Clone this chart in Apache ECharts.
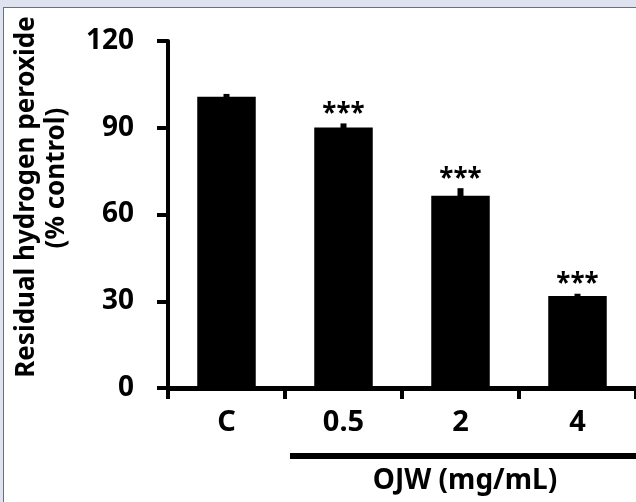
<!DOCTYPE html>
<html>
<head>
<meta charset="utf-8">
<script src="https://cdn.jsdelivr.net/npm/echarts@6/dist/echarts.min.js"></script>
<style>
  html, body { margin: 0; padding: 0; background: #fff; }
  #main { width: 636px; height: 502px; }
</style>
</head>
<body>
<div id="main"></div>
<script>
// data
var categories = ['C', '0.5', '2', '4'];
var values = [100.7, 90.1, 66.5, 31.8];
var errors = [1.0, 1.4, 2.6, 0.8];
var stars = ['', '***', '***', '***'];
var yTicks = [0, 30, 60, 90, 120];

var FONT = '"Noto Sans", "Open Sans", sans-serif';

var errData = categories.map(function (c, i) {
  return [i, values[i], errors[i]];
});

var myChart = echarts.init(document.getElementById('main'));

var option = {
  animation: false,
  backgroundColor: '#fff',
  grid: { left: 168, right: 0, top: 41, bottom: 114 },
  xAxis: {
    type: 'category',
    data: categories,
    axisLine: { lineStyle: { color: '#000', width: 5 } },
    axisTick: { show: true, alignWithLabel: false, length: 11, lineStyle: { color: '#000', width: 4 } },
    axisLabel: { color: '#000', fontSize: 29, fontWeight: 'bold', fontFamily: FONT, margin: 20 }
  },
  yAxis: {
    type: 'value',
    min: yTicks[0],
    max: yTicks[yTicks.length - 1],
    interval: 30,
    splitLine: { show: false },
    axisLine: { show: true, lineStyle: { color: '#000', width: 4 } },
    axisTick: { show: true, length: 11, lineStyle: { color: '#000', width: 4 } },
    axisLabel: { color: '#000', fontSize: 28, fontWeight: 'bold', fontFamily: FONT, margin: 34 }
  },
  series: [
    {
      type: 'bar',
      data: values,
      barWidth: '50%',
      itemStyle: { color: '#000' },
      z: 1
    },
    {
      // error bars + significance stars
      type: 'custom',
      data: errData,
      z: 3,
      renderItem: function (params, api) {
        var i = params.dataIndex;
        var base = api.coord([api.value(0), api.value(1)]);
        var top = api.coord([api.value(0), api.value(1) + api.value(2)]);
        var children = [{
          type: 'rect',
          shape: { x: base[0] - 3, y: top[1], width: 6, height: base[1] - top[1] + 1 },
          style: { fill: '#000' }
        }];
        if (stars[i]) {
          children.push({
            type: 'text',
            x: base[0],
            y: top[1] + 4,
            style: {
              text: stars[i], fill: '#000', fontSize: 26, fontWeight: 'bold',
              fontFamily: FONT, align: 'center', verticalAlign: 'bottom'
            }
          });
        }
        return { type: 'group', children: children };
      }
    }
  ],
  graphic: [
    // window frame
    { type: 'rect', left: 0, top: 0, shape: { width: 636, height: 7 }, style: { fill: '#dfe3f0' }, z: 10 },
    { type: 'rect', left: 0, top: 0, shape: { width: 3, height: 502 }, style: { fill: '#dfe3f0' }, z: 10 },
    { type: 'rect', left: 3, top: 7, shape: { width: 633, height: 1 }, style: { fill: '#6f6f6f' }, z: 10 },
    { type: 'rect', left: 3, top: 7, shape: { width: 1, height: 495 }, style: { fill: '#6f6f6f' }, z: 10 },
    // y axis title
    {
      type: 'text', x: 27, y: 197, rotation: Math.PI / 2,
      style: { text: 'Residual hydrogen peroxide', fill: '#000', fontSize: 26, fontWeight: 'bold', fontFamily: FONT, align: 'center', verticalAlign: 'middle' }
    },
    {
      type: 'text', x: 57, y: 178, rotation: Math.PI / 2,
      style: { text: '(% control)', fill: '#000', fontSize: 26, fontWeight: 'bold', fontFamily: FONT, align: 'center', verticalAlign: 'middle' }
    },
    // group bracket under treated bars
    { type: 'rect', left: 290, top: 453, shape: { width: 346, height: 6 }, style: { fill: '#000' } },
    {
      type: 'text', x: 465, y: 481,
      style: { text: 'OJW (mg/mL)', fill: '#000', fontSize: 28, fontWeight: 'bold', fontFamily: FONT, align: 'center', verticalAlign: 'middle' }
    }
  ]
};

myChart.setOption(option);
</script>
</body>
</html>
